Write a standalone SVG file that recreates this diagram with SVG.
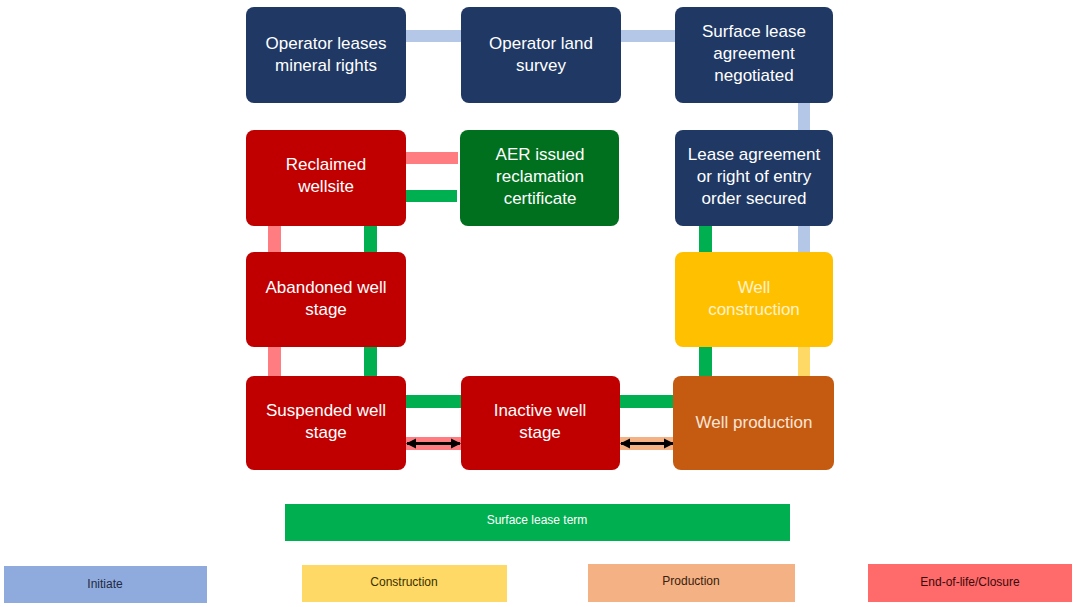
<svg xmlns="http://www.w3.org/2000/svg" width="1073" height="607" viewBox="0 0 1073 607">
<style>
.n{stroke:none}
.navy{fill:#1f3864}
.red{fill:#c00000}
.dg{fill:#00701e}
.yel{fill:#ffc000}
.org{fill:#c55a11}
.t{font-family:"Liberation Sans",Arial,sans-serif;font-size:17px;fill:#ffffff;text-anchor:middle}
.ty{fill:#fff2cc}
.tp{fill:#fbe5d6}
.cb{fill:#b4c7e7}
.cg{fill:#00b050}
.cp{fill:#ff7c80}
.cy{fill:#ffd966}
.cpe{fill:#f4b183}
.lt{font-family:"Liberation Sans",Arial,sans-serif;font-size:12px;text-anchor:middle}
</style>
<defs>
<marker id="ah" viewBox="0 0 10 10" refX="9" refY="5" markerWidth="3.5" markerHeight="3.5" orient="auto-start-reverse">
<path d="M0,0 L10,5 L0,10 z" fill="#000"/>
</marker>
</defs>
<rect width="1073" height="607" fill="#ffffff"/>
<g id="connectors">
<rect class="cb" x="405" y="30" width="57" height="12"/>
<rect class="cb" x="620" y="30" width="56" height="12"/>
<rect class="cb" x="798" y="102" width="12" height="29"/>
<rect class="cp" x="406" y="152" width="52" height="12"/>
<rect class="cg" x="404" y="190" width="53" height="12"/>
<rect class="cp" x="268" y="225" width="13" height="28"/>
<rect class="cg" x="364" y="225" width="13" height="28"/>
<rect class="cg" x="699" y="225" width="13" height="28"/>
<rect class="cb" x="798" y="225" width="12" height="28"/>
<rect class="cp" x="268" y="346" width="13" height="31"/>
<rect class="cg" x="364" y="346" width="13" height="31"/>
<rect class="cg" x="699" y="346" width="13" height="31"/>
<rect class="cy" x="798" y="346" width="12" height="31"/>
<rect class="cg" x="405" y="395" width="57" height="13"/>
<rect class="cg" x="619" y="395" width="56" height="13"/>
<rect class="cp" x="405" y="437" width="57" height="13"/>
<rect class="cpe" x="619" y="437" width="56" height="13"/>
<line x1="407" y1="443.5" x2="460" y2="443.5" stroke="#000" stroke-width="3" marker-start="url(#ah)" marker-end="url(#ah)"/>
<line x1="621" y1="443.5" x2="673" y2="443.5" stroke="#000" stroke-width="3" marker-start="url(#ah)" marker-end="url(#ah)"/>
</g>
<g id="n1"><rect class="navy" x="246" y="7" width="160" height="96" rx="8"/><text class="t" x="326" y="49">Operator leases</text><text class="t" x="326" y="71">mineral rights</text></g>
<g id="n2"><rect class="navy" x="461" y="7" width="160" height="96" rx="8"/><text class="t" x="541" y="49">Operator land</text><text class="t" x="541" y="71">survey</text></g>
<g id="n3"><rect class="navy" x="675" y="7" width="158" height="96" rx="8"/><text class="t" x="754" y="37">Surface lease</text><text class="t" x="754" y="59">agreement</text><text class="t" x="754" y="81">negotiated</text></g>
<g id="n4"><rect class="navy" x="675" y="130" width="158" height="96" rx="8"/><text class="t" x="754" y="160">Lease agreement</text><text class="t" x="754" y="182">or right of entry</text><text class="t" x="754" y="204">order secured</text></g>
<g id="n5"><rect class="yel" x="675" y="252" width="158" height="95" rx="8"/><text class="t ty" x="754" y="293">Well</text><text class="t ty" x="754" y="315">construction</text></g>
<g id="n6"><rect class="org" x="673" y="376" width="161" height="94" rx="8"/><text class="t tp" x="754" y="428">Well production</text></g>
<g id="n7"><rect class="red" x="461" y="376" width="159" height="94" rx="8"/><text class="t" x="540" y="416">Inactive well</text><text class="t" x="540" y="438">stage</text></g>
<g id="n8"><rect class="red" x="246" y="376" width="160" height="94" rx="8"/><text class="t" x="326" y="416">Suspended well</text><text class="t" x="326" y="438">stage</text></g>
<g id="n9"><rect class="red" x="246" y="252" width="160" height="95" rx="8"/><text class="t" x="326" y="293">Abandoned well</text><text class="t" x="326" y="315">stage</text></g>
<g id="n10"><rect class="red" x="246" y="130" width="160" height="96" rx="8"/><text class="t" x="326" y="170">Reclaimed</text><text class="t" x="326" y="192">wellsite</text></g>
<g id="n11"><rect class="dg" x="460" y="130" width="159" height="96" rx="8"/><text class="t" x="540" y="160">AER issued</text><text class="t" x="540" y="182">reclamation</text><text class="t" x="540" y="204">certificate</text></g>
<g id="term"><rect class="cg" x="285" y="504" width="505" height="37"/><text class="lt" x="537" y="524" fill="#ffffff">Surface lease term</text></g>
<g id="legend">
<rect x="4" y="566" width="203" height="37" fill="#8faadc"/><text class="lt" x="105" y="588" fill="#1f2a44">Initiate</text>
<rect x="302" y="565" width="205" height="37" fill="#ffd966"/><text class="lt" x="404" y="586" fill="#3a3000">Construction</text>
<rect x="588" y="564" width="207" height="38" fill="#f4b183"/><text class="lt" x="691" y="585" fill="#3a2010">Production</text>
<rect x="868" y="564" width="204" height="38" fill="#ff6b6b"/><text class="lt" x="970" y="586" fill="#3a0a0a">End-of-life/Closure</text>
</g>
</svg>
